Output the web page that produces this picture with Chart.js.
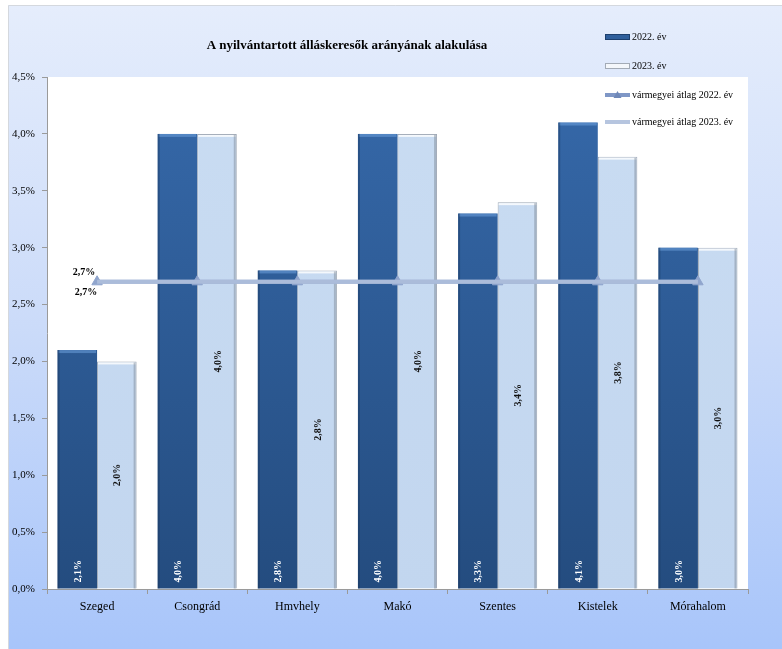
<!DOCTYPE html>
<html><head><meta charset="utf-8">
<script src="https://cdn.jsdelivr.net/npm/chart.js@4/dist/chart.umd.min.js"></script>
<style>
html,body{margin:0;padding:0;background:#fff;width:782px;height:649px;overflow:hidden}
#wrap{position:absolute;left:8px;top:5px;width:774px;height:644px}
</style></head><body>
<div id="wrap"><canvas id="c" width="774" height="644"></canvas></div>
<script>
const chartTitle = 'A nyilvántartott álláskeresők arányának alakulása';
const categories = ['Szeged', 'Csongrád', 'Hmvhely', 'Makó', 'Szentes', 'Kistelek', 'Mórahalom'];
const seriesNames = ['2022. év', '2023. év', 'vármegyei átlag 2022. év', 'vármegyei átlag 2023. év'];
const values2022 = [2.1, 4.0, 2.8, 4.0, 3.3, 4.1, 3.0];
const values2023 = [2.0, 4.0, 2.8, 4.0, 3.4, 3.8, 3.0];
const avg2022 = [2.7, 2.7, 2.7, 2.7, 2.7, 2.7, 2.7];
const avg2023 = [2.7, 2.7, 2.7, 2.7, 2.7, 2.7, 2.7];
const yMin = 0, yMax = 4.5, yStep = 0.5;

const SERIF = "'Liberation Serif', 'DejaVu Serif', serif";
const fmt = v => v.toFixed(1).replace('.', ',') + '%';

function darkFill(ctx) {
  const ca = ctx.chart.chartArea;
  if (!ca) return '#2f5f9c';
  const g = ctx.chart.ctx.createLinearGradient(0, ca.top, 0, ca.bottom);
  g.addColorStop(0, '#3669aa');
  g.addColorStop(1, '#244c7f');
  return g;
}
function lightFill(ctx) {
  const ca = ctx.chart.chartArea;
  if (!ca) return '#c6d9f1';
  const g = ctx.chart.ctx.createLinearGradient(0, ca.top, 0, ca.bottom);
  g.addColorStop(0, '#c9dcf2');
  g.addColorStop(1, '#c2d6ef');
  return g;
}

const bgPlugin = {
  id: 'bg',
  beforeDraw(chart) {
    const {ctx, width, height, chartArea: ca} = chart;
    ctx.save();
    const g = ctx.createLinearGradient(0, 0, 0, height);
    g.addColorStop(0, '#e5edfc');
    g.addColorStop(0.5, '#cbdbf9');
    g.addColorStop(1, '#a8c5fa');
    ctx.fillStyle = g;
    ctx.fillRect(0, 0, width, height);
    ctx.strokeStyle = '#d4d8de';
    ctx.lineWidth = 1;
    ctx.beginPath();
    ctx.moveTo(0.5, height); ctx.lineTo(0.5, 0.5); ctx.lineTo(width, 0.5);
    ctx.stroke();
    ctx.fillStyle = '#ffffff';
    ctx.fillRect(ca.left, ca.top, ca.right - ca.left, ca.bottom - ca.top);
    ctx.restore();
  }
};

const bevelPlugin = {
  id: 'bevel',
  afterDatasetDraw(chart, args) {
    const i = args.index;
    if (i > 1) return;
    const meta = chart.getDatasetMeta(i);
    const ctx = chart.ctx;
    ctx.save();
    meta.data.forEach(b => {
      const l = b.x - b.width / 2, r = b.x + b.width / 2, t = b.y, bot = b.base;
      if (i === 0) {
        ctx.fillStyle = 'rgba(110,160,220,0.55)';
        ctx.fillRect(l + 1, t, b.width - 2, 3);
        ctx.fillStyle = 'rgba(20,45,80,0.35)';
        ctx.fillRect(l, t, 2, bot - t);
      } else {
        ctx.fillStyle = 'rgba(255,255,255,0.8)';
        ctx.fillRect(l + 1, t + 1, b.width - 2, 2);
        ctx.fillStyle = 'rgba(120,130,145,0.45)';
        ctx.fillRect(r - 3, t + 1, 2, bot - t - 1);
      }
    });
    ctx.restore();
  }
};

const labelPlugin = {
  id: 'vlabels',
  afterDatasetsDraw(chart) {
    const ctx = chart.ctx;
    ctx.save();
    ctx.font = 'bold 10px ' + SERIF;
    ctx.textBaseline = 'middle';
    chart.getDatasetMeta(0).data.forEach((b, k) => {
      ctx.save();
      ctx.translate(b.x + 1, b.base - 6);
      ctx.rotate(-Math.PI / 2);
      ctx.textAlign = 'left';
      ctx.fillStyle = '#ffffff';
      ctx.fillText(fmt(values2022[k]), 0, 0);
      ctx.restore();
    });
    chart.getDatasetMeta(1).data.forEach((b, k) => {
      ctx.save();
      ctx.translate(b.x + 1, (b.y + b.base) / 2);
      ctx.rotate(-Math.PI / 2);
      ctx.textAlign = 'center';
      ctx.fillStyle = '#111111';
      ctx.fillText(fmt(values2023[k]), 0, 0);
      ctx.restore();
    });
    const p0 = chart.getDatasetMeta(2).data[0];
    const p1 = chart.getDatasetMeta(3).data[0];
    ctx.fillStyle = '#000000';
    ctx.textAlign = 'center';
    ctx.fillText(fmt(avg2022[0]), p0.x - 13, p0.y - 9);
    ctx.fillText(fmt(avg2023[0]), p1.x - 11, p1.y + 11);
    ctx.restore();
  }
};

const titleLegendPlugin = {
  id: 'titleLegend',
  afterDraw(chart) {
    const ctx = chart.ctx;
    ctx.save();
    ctx.fillStyle = '#000';
    ctx.font = 'bold 13px ' + SERIF;
    ctx.textAlign = 'center';
    ctx.textBaseline = 'middle';
    ctx.fillText(chartTitle, 339, 41);

    const rows = [32, 61, 90, 117];
    const sx = 597, sw = 25, tx = 624;
    ctx.font = '10px ' + SERIF;
    ctx.textAlign = 'left';
    chart.data.datasets.forEach((ds, i) => {
      const y = rows[i];
      if (i === 0) {
        ctx.fillStyle = '#2f5f9c';
        ctx.fillRect(sx, y - 2, sw, 4);
        ctx.strokeStyle = '#1d3f6d';
        ctx.lineWidth = 1;
        ctx.strokeRect(sx + 0.5, y - 2.5, sw - 1, 5);
      } else if (i === 1) {
        ctx.fillStyle = '#f4f7fb';
        ctx.fillRect(sx, y - 2, sw, 4);
        ctx.strokeStyle = '#a3abb6';
        ctx.lineWidth = 1;
        ctx.strokeRect(sx + 0.5, y - 2.5, sw - 1, 5);
      } else {
        ctx.strokeStyle = i === 2 ? '#7f97c6' : '#b6c5df';
        ctx.lineWidth = 4;
        ctx.beginPath();
        ctx.moveTo(sx, y); ctx.lineTo(sx + sw, y);
        ctx.stroke();
        if (i === 2) {
          ctx.fillStyle = '#6f88b8';
          ctx.beginPath();
          ctx.moveTo(sx + sw / 2, y - 4);
          ctx.lineTo(sx + sw / 2 + 4, y + 3);
          ctx.lineTo(sx + sw / 2 - 4, y + 3);
          ctx.closePath();
          ctx.fill();
        }
      }
      ctx.fillStyle = '#000';
      ctx.fillText(ds.label, tx, y);
    });
    ctx.restore();
  }
};

new Chart(document.getElementById('c'), {
  data: {
    labels: categories,
    datasets: [
      { type: 'bar', label: seriesNames[0], data: values2022, backgroundColor: darkFill,
        borderWidth: 0, order: 2, categoryPercentage: 0.79, barPercentage: 1 },
      { type: 'bar', label: seriesNames[1], data: values2023, backgroundColor: lightFill,
        borderColor: '#9ea8b5', borderWidth: 1, order: 3, categoryPercentage: 0.79, barPercentage: 1 },
      { type: 'line', label: seriesNames[2], data: avg2022, borderColor: '#98abd0', borderWidth: 4,
        pointStyle: 'triangle', pointRadius: 6, pointBackgroundColor: '#90a5cd', pointBorderColor: '#90a5cd',
        pointBorderWidth: 1, fill: false, tension: 0, order: 1 },
      { type: 'line', label: seriesNames[3], data: avg2023, borderColor: '#abbcda', borderWidth: 4,
        pointRadius: 0, fill: false, tension: 0, order: 0 }
    ]
  },
  options: {
    responsive: false,
    animation: false,
    devicePixelRatio: 1,
    layout: { padding: { top: 72, right: 34, bottom: 0, left: 0 } },
    plugins: { legend: { display: false }, title: { display: false }, tooltip: { enabled: false } },
    scales: {
      x: {
        grid: { offset: true, drawOnChartArea: false, drawTicks: true, tickLength: 5, color: '#9a9a9a' },
        border: { color: '#9a9a9a' },
        ticks: { font: { family: SERIF, size: 12 }, color: '#000', padding: 6 },
        afterFit(s) { s.height = 60; }
      },
      y: {
        min: yMin, max: yMax,
        grid: { drawOnChartArea: false, drawTicks: true, tickLength: 5, color: '#9a9a9a' },
        border: { color: '#9a9a9a' },
        ticks: { stepSize: yStep, font: { family: SERIF, size: 11 }, color: '#000', padding: 7,
          callback: v => fmt(v) },
        afterFit(s) { s.width = 39; }
      }
    }
  },
  plugins: [bgPlugin, bevelPlugin, labelPlugin, titleLegendPlugin]
});
</script>
</body></html>
